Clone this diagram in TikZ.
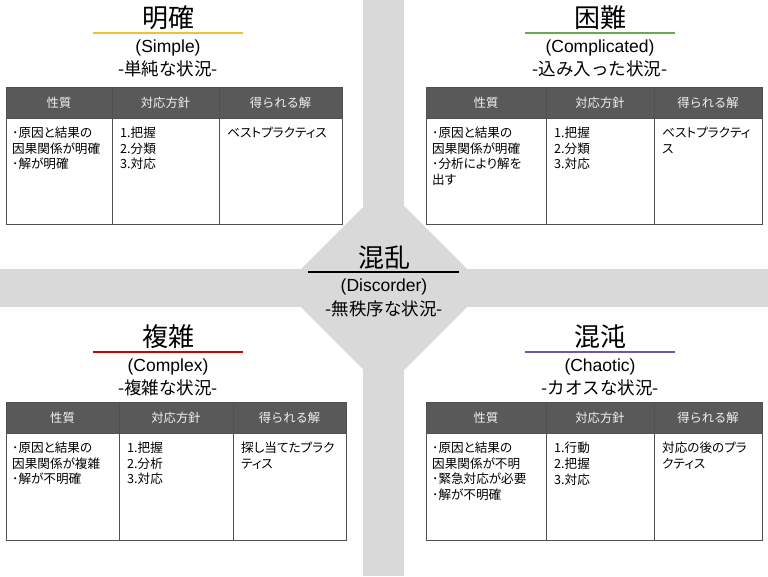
\documentclass[tikz,border=0pt]{standalone}
\usepackage{fontspec}
\setmainfont{Liberation Sans}
\newfontfamily\cjk{Noto Sans CJK JP}
\newfontfamily\cjkprop[RawFeature=+palt]{Noto Sans CJK JP}

\definecolor{crossgray}{HTML}{D9D9D9}
\definecolor{headgray}{HTML}{595959}
\definecolor{headtext}{HTML}{F2F2F2}
\definecolor{tableline}{HTML}{505050}
\definecolor{lineyellow}{HTML}{F1C232}
\definecolor{linegreen}{HTML}{6AA84F}
\definecolor{linered}{HTML}{CC0000}
\definecolor{linepurple}{HTML}{7056B0}

\tikzset{
  headcell/.style={draw=tableline, line width=0.8pt, fill=headgray, text=headtext,
    anchor=north west, minimum height=31pt, inner sep=0pt, outer sep=0pt,
    font=\cjk\fontsize{12.3}{14}\selectfont},
  bodycell/.style={draw=tableline, line width=0.8pt, fill=white,
    anchor=north west, inner sep=0pt, outer sep=0pt},
  celltext/.style={anchor=north west, align=left, inner sep=0pt,
    font=\cjkprop\fontsize{12.6}{15.6}\selectfont},
  maintitle/.style={font=\cjk\fontsize{26}{30}\selectfont},
  engtitle/.style={font=\fontsize{17.5}{20}\selectfont},
  jptitle/.style={font=\cjk\fontsize{17.5}{20}\selectfont},
  titleline/.style={line width=2.5pt}
}

\begin{document}
\begin{tikzpicture}[x=1pt, y=-1pt]

	\useasboundingbox (0,0) rectangle (768,576);

	% gray cross and diamond
	\fill [crossgray] (363,0) rectangle (404,576);
	\fill [crossgray] (0,269) rectangle (768,307);
	\fill [crossgray] (384,186) -- (486,288) -- (384,390) -- (282,288) -- cycle;

	% Simple
	\node [maintitle] (simpleTitle) at (168,18) {明確};
	\draw [titleline, lineyellow] (93,33) -- (243,33);
	\node [engtitle] (simpleEng) at (168,48) {(Simple)};
	\node [jptitle] (simpleJp) at (168,69) {-単純な状況-};

	\node [headcell, minimum width=106pt] (simpleHeadA) at (6,87) {性質};
	\node [headcell, minimum width=107pt] (simpleHeadB) at (112,87) {対応方針};
	\node [headcell, minimum width=123pt] (simpleHeadC) at (219,87) {得られる解};
	\node [bodycell, minimum width=106pt, minimum height=106pt] (simpleBodyA) at (6,118) {};
	\node [bodycell, minimum width=107pt, minimum height=106pt] (simpleBodyB) at (112,118) {};
	\node [bodycell, minimum width=123pt, minimum height=106pt] (simpleBodyC) at (219,118) {};
	\node [celltext] (simpleTextA) at ([shift={(6,9)}]simpleBodyA.north west) {･原因と結果の\\因果関係が明確\\･解が明確};
	\node [celltext] (simpleTextB) at ([shift={(8,9)}]simpleBodyB.north west) {1.把握\\2.分類\\3.対応};
	\node [celltext] (simpleTextC) at ([shift={(8,9)}]simpleBodyC.north west) {ベストプラクティス};

	% Complicated
	\node [maintitle] (compTitle) at (600,18) {困難};
	\draw [titleline, linegreen] (525,33) -- (675,33);
	\node [engtitle] (compEng) at (600,48) {(Complicated)};
	\node [jptitle] (compJp) at (600,69) {-込み入った状況-};

	\node [headcell, minimum width=120pt] (compHeadA) at (426,87) {性質};
	\node [headcell, minimum width=108pt] (compHeadB) at (546,87) {対応方針};
	\node [headcell, minimum width=108pt] (compHeadC) at (654,87) {得られる解};
	\node [bodycell, minimum width=120pt, minimum height=106pt] (compBodyA) at (426,118) {};
	\node [bodycell, minimum width=108pt, minimum height=106pt] (compBodyB) at (546,118) {};
	\node [bodycell, minimum width=108pt, minimum height=106pt] (compBodyC) at (654,118) {};
	\node [celltext] (compTextA) at ([shift={(6,9)}]compBodyA.north west) {･原因と結果の\\因果関係が明確\\･分析により解を\\出す};
	\node [celltext] (compTextB) at ([shift={(8,9)}]compBodyB.north west) {1.把握\\2.分類\\3.対応};
	\node [celltext] (compTextC) at ([shift={(8,9)}]compBodyC.north west) {ベストプラクティ\\ス};

	% Disorder
	\node [maintitle] (disTitle) at (384,258) {混乱};
	\draw [line width=2pt, black] (308,272) -- (459,272);
	\node [engtitle] (disEng) at (384,287) {(Discorder)};
	\node [jptitle] (disJp) at (384,309) {-無秩序な状況-};

	% Complex
	\node [maintitle] (cplxTitle) at (168,337) {複雑};
	\draw [titleline, linered] (93,352) -- (243,352);
	\node [engtitle] (cplxEng) at (168,367) {(Complex)};
	\node [jptitle] (cplxJp) at (168,388) {-複雑な状況-};

	\node [headcell, minimum width=113pt] (cplxHeadA) at (6,402) {性質};
	\node [headcell, minimum width=114pt] (cplxHeadB) at (119,402) {対応方針};
	\node [headcell, minimum width=113pt] (cplxHeadC) at (233,402) {得られる解};
	\node [bodycell, minimum width=113pt, minimum height=107pt] (cplxBodyA) at (6,433) {};
	\node [bodycell, minimum width=114pt, minimum height=107pt] (cplxBodyB) at (119,433) {};
	\node [bodycell, minimum width=113pt, minimum height=107pt] (cplxBodyC) at (233,433) {};
	\node [celltext] (cplxTextA) at ([shift={(6,9)}]cplxBodyA.north west) {･原因と結果の\\因果関係が複雑\\･解が不明確};
	\node [celltext] (cplxTextB) at ([shift={(8,9)}]cplxBodyB.north west) {1.把握\\2.分析\\3.対応};
	\node [celltext] (cplxTextC) at ([shift={(8,9)}]cplxBodyC.north west) {探し当てたプラク\\ティス};

	% Chaotic
	\node [maintitle] (chaosTitle) at (600,337) {混沌};
	\draw [titleline, linepurple] (525,352) -- (675,352);
	\node [engtitle] (chaosEng) at (600,367) {(Chaotic)};
	\node [jptitle] (chaosJp) at (600,388) {-カオスな状況-};

	\node [headcell, minimum width=120pt] (chaosHeadA) at (426,402) {性質};
	\node [headcell, minimum width=108pt] (chaosHeadB) at (546,402) {対応方針};
	\node [headcell, minimum width=108pt] (chaosHeadC) at (654,402) {得られる解};
	\node [bodycell, minimum width=120pt, minimum height=107pt] (chaosBodyA) at (426,433) {};
	\node [bodycell, minimum width=108pt, minimum height=107pt] (chaosBodyB) at (546,433) {};
	\node [bodycell, minimum width=108pt, minimum height=107pt] (chaosBodyC) at (654,433) {};
	\node [celltext] (chaosTextA) at ([shift={(6,9)}]chaosBodyA.north west) {･原因と結果の\\因果関係が不明\\･緊急対応が必要\\･解が不明確};
	\node [celltext] (chaosTextB) at ([shift={(8,9)}]chaosBodyB.north west) {1.行動\\2.把握\\3.対応};
	\node [celltext] (chaosTextC) at ([shift={(8,9)}]chaosBodyC.north west) {対応の後のプラ\\クティス};

\end{tikzpicture}
\end{document}
